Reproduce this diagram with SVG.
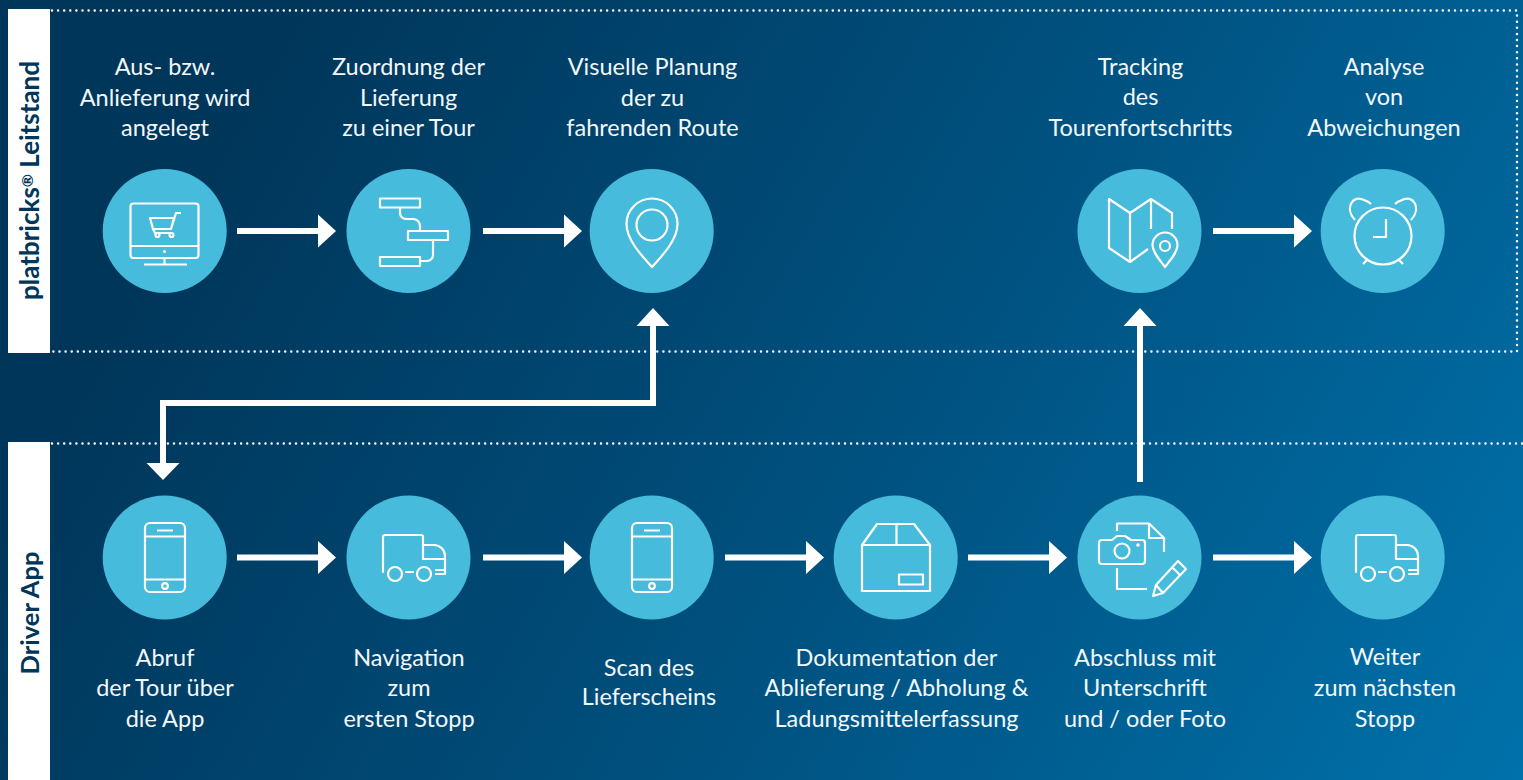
<svg xmlns="http://www.w3.org/2000/svg" width="1523" height="780" viewBox="0 0 1523 780">
<defs>
<linearGradient id="bg" gradientUnits="userSpaceOnUse" x1="260" y1="60" x2="1523" y2="780"><stop offset="0" stop-color="#00365a"/><stop offset="0.5" stop-color="#00517f"/><stop offset="1" stop-color="#0071ab"/></linearGradient>
<path id="arrowH" d="M0-3H81V-16.500L99 0 81 16.500V3H0Z" fill="#fff"/>
<g id="phone" class="ic"><rect x="-20" y="-34.500" width="40" height="69" rx="5"/><path d="M-20-21H20M-20 22H20M-8-27H8"/><circle cx="0" cy="28.500" r="2.800"/></g>
<g id="truck" class="ic"><path d="M-26 19V-16a2 2 0 0 1 2-2H12a2 2 0 0 1 2 2V6M14-8H25a11 11 0 0 1 11 11V21H27M27 17H36M14 6H36M-3 19H4" stroke-linecap="round"/><circle cx="-14" cy="21" r="7"/><circle cx="15" cy="21" r="7"/></g>
</defs>
<style>
text{font-family:Lato,"Open Sans",sans-serif;font-size:23.5px;fill:#f2f8fb;text-anchor:middle}
.tab{font-weight:700;font-size:25.5px;fill:#00365a}
.c{fill:#46bbdb}
.ic,.ic *{fill:none;stroke:#fff;stroke-width:2.200;stroke-linejoin:round}
.dot{fill:none;stroke:#fff;stroke-width:2.500;stroke-linecap:round;stroke-dasharray:0 6.100}
</style>
<rect width="1523" height="780" fill="url(#bg)"/>
<g id="lanes">
<rect x="8" y="9" width="42" height="344" fill="#fff"/>
<rect x="8" y="442" width="42" height="338" fill="#fff"/>
<path class="dot" d="M52 10.500H1517V351.500H52"/>
<path class="dot" d="M52 443.500H1523"/>
<text class="tab" transform="translate(39 180.500) rotate(-90)" style="font-size:26px">platbricks<tspan font-size="16" dy="-6">®</tspan><tspan dy="6"> Leitstand</tspan></text>
<text class="tab" transform="translate(39 613) rotate(-90)">Driver App</text>
</g>
<g id="connectors">
<use href="#arrowH" x="237" y="231"/>
<use href="#arrowH" x="483" y="231"/>
<use href="#arrowH" x="1213" y="231"/>
<use href="#arrowH" x="237" y="557.500"/>
<use href="#arrowH" x="483" y="557.500"/>
<use href="#arrowH" x="725" y="557.500"/>
<use href="#arrowH" x="968" y="557.500"/>
<use href="#arrowH" x="1213" y="557.500"/>
<path fill="#fff" d="M1137 482V326H1123.500L1140 308 1156.500 326H1143V482Z"/>
<path fill="#fff" d="M650 326H636.500L653 308 669.500 326H656V406H166V463H179.500L163 480 146.500 463H160V400H650Z"/>
</g>
<g id="n1"><circle class="c" cx="164.700" cy="231" r="62"/><g class="ic"><rect x="130.500" y="203.500" width="68" height="54.500" rx="3"/><path d="M130.500 246H198.500M164.500 258V264M144 264.500H187"/><path d="M150 218H174L171 229H153ZM171 229 176 213H181M153 229 155 233H172"/><circle cx="157.500" cy="235" r="2"/><circle cx="171.500" cy="235" r="2"/></g><circle cx="164.500" cy="251.500" r="1.500" fill="#fff"/><text x="165" y="75">Aus- bzw.</text><text x="165" y="106">Anlieferung wird</text><text x="165" y="136">angelegt</text></g>
<g id="n2"><circle class="c" cx="408.500" cy="231" r="62"/><g class="ic"><rect x="380" y="198.500" width="40" height="9"/><rect x="408" y="231" width="40" height="9"/><rect x="380" y="257" width="40" height="9"/><path d="M400 208V213a6 6 0 0 0 6 6H413a7 7 0 0 1 7 7V231M433 240V255a6 6 0 0 1-6 6H420"/></g><text x="408.500" y="75">Zuordnung der</text><text x="408.500" y="106">Lieferung</text><text x="408.500" y="136">zu einer Tour</text></g>
<g id="n3"><circle class="c" cx="651.700" cy="231" r="62"/><g class="ic"><path d="M652 267C640 254 626.500 239 626.500 224A25.500 25.500 0 0 1 677.500 224C677.500 239 664 254 652 267Z"/><circle cx="652" cy="225" r="15.500"/></g><text x="652.500" y="75">Visuelle Planung</text><text x="652.500" y="106">der zu</text><text x="652.500" y="136">fahrenden Route</text></g>
<g id="n4"><circle class="c" cx="1139.500" cy="231" r="62"/><g class="ic"><path d="M1148 249 1130 262 1109 248V199L1130 213 1151 199 1172 213V229M1130 213V262M1151 199V229"/><path d="M1165 267C1159 259 1152.500 252 1152.500 245A12.500 12.500 0 0 1 1177.500 245C1177.500 252 1171 259 1165 267Z"/><circle cx="1165" cy="246" r="5"/></g><text x="1140.500" y="75">Tracking</text><text x="1140.500" y="105">des</text><text x="1140.500" y="136">Tourenfortschritts</text></g>
<g id="n5"><circle class="c" cx="1382.700" cy="231" r="62"/><g class="ic"><circle cx="1383" cy="236" r="28.500"/><path d="M1386 219V237H1373M1368 259 1363 264M1398 259 1403 264M1355 220C1344 208 1353 194 1364 200 1367 201 1369 202 1371 204M1411 220C1422 208 1413 194 1402 200 1399 201 1397 202 1395 204"/></g><text x="1384" y="75">Analyse</text><text x="1384" y="105">von</text><text x="1384" y="136">Abweichungen</text></g>
<g id="n6"><circle class="c" cx="164.700" cy="557.500" r="62"/><use href="#phone" x="165" y="557.500"/><text x="165" y="666">Abruf</text><text x="165" y="696">der Tour über</text><text x="165" y="727">die App</text></g>
<g id="n7"><circle class="c" cx="408.500" cy="557.500" r="62"/><use href="#truck" x="409" y="553"/><text x="409" y="666">Navigation</text><text x="409" y="696">zum</text><text x="409" y="727">ersten Stopp</text></g>
<g id="n8"><circle class="c" cx="651.700" cy="557.500" r="62"/><use href="#phone" x="652" y="557.500"/><text x="649" y="676">Scan des</text><text x="649" y="705">Lieferscheins</text></g>
<g id="n9"><circle class="c" cx="895.700" cy="557.500" r="62"/><g class="ic"><path d="M862 545H930V591H862ZM862 545 877 524H914L930 545M896.500 524V545"/><rect x="899" y="574.500" width="24" height="10"/></g><text x="896.500" y="666">Dokumentation der</text><text x="896.500" y="696">Ablieferung / Abholung &amp;</text><text x="896.500" y="727">Ladungsmittelerfassung</text></g>
<g id="n10"><circle class="c" cx="1139.500" cy="557.500" r="62"/><g class="ic"><path d="M1117 531V523.500H1149L1164 538V552M1149 523.500V538H1164M1117 568V589H1147"/><path d="M1099 543a3 3 0 0 1 3-3H1112L1117 536H1125L1131 540H1142a3 3 0 0 1 3 3V561a3 3 0 0 1-3 3H1102a3 3 0 0 1-3-3Z"/><circle cx="1122" cy="551" r="7.500"/><path d="M1153 596 1156 585 1178 561 1186 569 1163 593ZM1156 585 1163 593M1172 567 1180 575"/></g><circle cx="1138" cy="545" r="1.800" fill="#fff"/><text x="1145" y="666">Abschluss mit</text><text x="1145" y="696">Unterschrift</text><text x="1145" y="727">und / oder Foto</text></g>
<g id="n11"><circle class="c" cx="1382.700" cy="557.500" r="62"/><use href="#truck" x="1382" y="553"/><text x="1385" y="665">Weiter</text><text x="1385" y="696">zum nächsten</text><text x="1385" y="727">Stopp</text></g>
</svg>
